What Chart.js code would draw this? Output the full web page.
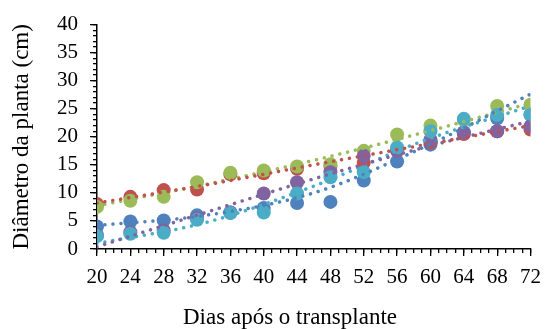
<!DOCTYPE html>
<html>
<head>
<meta charset="utf-8">
<script src="https://cdn.jsdelivr.net/npm/chart.js@4"></script>
<style>
html,body{margin:0;padding:0;background:#fff;}
#wrap{width:550px;height:329px;}
</style>
</head>
<body>
<div id="wrap"><canvas id="c" width="550" height="329"></canvas></div>
<script>
const days = [20,24,28,32,36,40,44,48,52,56,60,64,68,72];
const blueVals   = [4.0,4.9,5.1,6.0,6.5,7.3,8.2,8.4,12.2,15.6,18.6,20.8,23.3,24.0];
const redVals    = [8.0,9.3,10.5,10.6,13.3,13.5,14.3,14.8,15.4,17.5,19.0,20.5,21.0,21.3];
const greenVals  = [7.5,8.6,9.3,11.9,13.6,14.0,14.7,15.1,17.5,20.4,22.0,23.0,25.5,25.7];
const purpleVals = [2.5,3.0,3.3,5.5,6.5,9.9,11.9,13.7,16.6,17.5,19.5,20.7,21.0,21.9];
const cyanVals   = [2.3,2.7,2.9,5.2,6.4,6.5,9.9,12.8,13.7,18.1,21.0,23.2,23.9,23.9];

// trendline values at these days
const trendDays   = [20,33,46,59,72];
const blueTrend   = [4.2,6.0,10.0,18.0,27.6];
const redTrend    = [8.2,11.4,15.0,18.5,22.0];
const greenTrend  = [7.7,11.5,15.8,20.7,26.0];
const purpleTrend = [0.4,6.5,12.5,18.0,22.8];
const cyanTrend   = [1.0,4.7,11.2,19.2,25.5];

const xTitle = 'Dias após o transplante';
const yTitle = 'Diâmetro da planta (cm)';

const COLORS = {blue:'#4F81BD', red:'#C0504D', green:'#9BBB59', purple:'#8064A2', cyan:'#4BACC6'};
const FONT = "'Liberation Serif','Times New Roman',serif";

function pts(xs, ys){ return xs.map((x,i)=>({x:x, y:ys[i]})); }

const series = [
  {key:'blue', vals:blueVals, trend:blueTrend, order:5},
  {key:'red', vals:redVals, trend:redTrend, order:4},
  {key:'green', vals:greenVals, trend:greenTrend, order:3},
  {key:'purple', vals:purpleVals, trend:purpleTrend, order:2},
  {key:'cyan', vals:cyanVals, trend:cyanTrend, order:1}
];

const datasets = [];
series.forEach(s=>{
  datasets.push({
    type:'scatter',
    data: pts(days, s.vals),
    backgroundColor: COLORS[s.key],
    borderColor: COLORS[s.key],
    borderWidth: 0,
    pointRadius: 7,
    pointHoverRadius: 7,
    xAxisID: 'x', yAxisID: 'y',
    order: s.order + 1
  });
});
series.forEach(s=>{
  datasets.push({
    type:'line',
    data: pts(trendDays, s.trend),
    borderColor: COLORS[s.key],
    borderWidth: 3.5,
    borderDash: [0.01, 8],
    borderCapStyle: 'round',
    cubicInterpolationMode: 'monotone',
    pointRadius: 0,
    fill: false,
    xAxisID: 'x', yAxisID: 'y',
    order: 0
  });
});

const tickFont = {family: FONT, size: 21};

new Chart(document.getElementById('c'), {
  type: 'scatter',
  data: {datasets: datasets},
  options: {
    responsive: false,
    animation: false,
    devicePixelRatio: 1,
    layout: {padding: {top: 8, right: 13, left: 43, bottom: 0}},
    plugins: {
      legend: {display: false},
      tooltip: {enabled: false},
      title: {
        display: true,
        position: 'bottom',
        fullSize: true,
        text: xTitle,
        color: '#000',
        font: {family: FONT, size: 23, weight: 'normal', lineHeight: 1.0},
        padding: {top: 0, bottom: 0}
      }
    },
    scales: {
      x: {
        type: 'linear', position: 'bottom', weight: 1,
        min: 20, max: 72,
        border: {display: true, color: '#000', width: 1.5},
        grid: {display: true, drawOnChartArea: false, drawTicks: true, color: '#000', tickColor: '#000', tickLength: 7, lineWidth: 1.3},
        ticks: {
          stepSize: 4, autoSkip: false, maxRotation: 0, color: '#000',
          font: tickFont, padding: 9
        },
        afterFit: s => { s.height = 57; }
      },
      x2: {
        type: 'linear', position: 'bottom', weight: 0,
        min: 20, max: 72,
        border: {display: false},
        grid: {display: true, drawOnChartArea: false, drawTicks: true, color: '#000', tickColor: '#000', tickLength: 4, lineWidth: 1.3},
        ticks: {stepSize: 1, display: false},
        afterFit: s => { s.height = 0; }
      },
      y: {
        type: 'linear', position: 'left', weight: 1,
        min: 0, max: 40,
        border: {display: true, color: '#000', width: 1.5},
        grid: {display: true, drawOnChartArea: false, drawTicks: true, color: '#000', tickColor: '#000', tickLength: 7, lineWidth: 1.3},
        ticks: {
          stepSize: 5, autoSkip: false, color: '#000',
          font: tickFont, padding: 12
        },
        title: {
          display: true, text: yTitle, color: '#000',
          font: {family: FONT, size: 23, weight: 'normal', lineHeight: 1.2},
          padding: {top: -35, bottom: 0}
        },
        afterFit: s => { s.width = 54; }
      },
      y2: {
        type: 'linear', position: 'left', weight: 0,
        min: 0, max: 40,
        border: {display: false},
        grid: {display: true, drawOnChartArea: false, drawTicks: true, color: '#000', tickColor: '#000', tickLength: 4, lineWidth: 1.3},
        ticks: {stepSize: 1, display: false},
        afterFit: s => { s.width = 0; }
      }
    }
  }
});
</script>
</body>
</html>
